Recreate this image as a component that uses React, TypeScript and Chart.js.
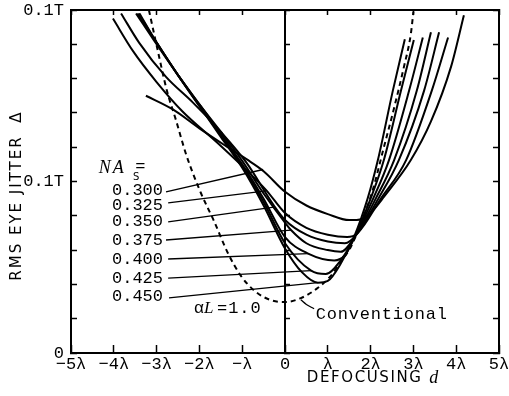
import React, { useEffect, useRef } from 'react';
import { Chart, registerables } from 'chart.js';

Chart.register(...registerables);

// ---------- axis ticks ----------
const xTickValues = [-5, -4, -3, -2, -1, 0, 1, 2, 3, 4, 5];
const xTickLabels = ['−5λ', '−4λ', '−3λ', '−2λ', '−λ', '0', 'λ', '2λ', '3λ', '4λ', '5λ'];
const yTickValues = [0, 0.02, 0.04, 0.06, 0.08, 0.1, 0.12, 0.14, 0.16, 0.18, 0.2];
const yTickLabels = ['0', '', '', '', '', '0.1T', '', '', '', '', '0.1T'];

// ---------- series (defocusing d in λ, rms eye jitter in T) ----------
const naLabels = ['0.300', '0.325', '0.350', '0.375', '0.400', '0.425', '0.450'];

const na300D = [-3.25, -2.62, -2.0, -1.4, -0.9, -0.5, 0, 0.5, 1.0, 1.5, 1.8, 2.05, 2.31, 2.94, 3.41, 3.88, 4.18];
const na300V = [0.150, 0.142, 0.131, 0.121, 0.113, 0.106, 0.094, 0.086, 0.081, 0.0775, 0.078, 0.083, 0.091, 0.1125, 0.135, 0.167, 0.197];

const na325D = [-4.02, -3.55, -3.0, -2.4, -1.6, -1.0, -0.44, 0, 0.5, 1.0, 1.45, 1.7, 2.24, 2.83, 3.43, 3.81];
const na325V = [0.195, 0.176, 0.158, 0.141, 0.123, 0.109, 0.095, 0.0816, 0.073, 0.069, 0.0676, 0.070, 0.09, 0.1125, 0.153, 0.184];

const na350D = [-3.83, -3.41, -2.78, -2.15, -1.5, -0.9, -0.26, 0, 0.5, 1.0, 1.4, 1.67, 2.18, 2.66, 3.25, 3.60];
const na350V = [0.198, 0.181, 0.161, 0.146, 0.129, 0.111, 0.086, 0.0776, 0.069, 0.065, 0.064, 0.069, 0.09, 0.1125, 0.153, 0.187];

const na375D = [-3.48, -3.0, -2.5, -2.0, -1.5, -1.0, -0.5, 0, 0.14, 0.5, 1.0, 1.3, 1.66, 2.12, 2.55, 3.08, 3.41];
const na375V = [0.198, 0.180, 0.162, 0.145, 0.129, 0.112, 0.093, 0.076, 0.0717, 0.064, 0.060, 0.059, 0.069, 0.09, 0.1125, 0.153, 0.187];

const na400D = [-3.45, -3.0, -2.5, -2.0, -1.5, -1.0, -0.5, 0, 0.54, 1.15, 1.4, 1.64, 2.06, 2.43, 2.90, 3.22];
const na400V = [0.198, 0.181, 0.162, 0.145, 0.128, 0.110, 0.090, 0.0676, 0.058, 0.054, 0.057, 0.068, 0.09, 0.1125, 0.153, 0.184];

const na425D = [-3.42, -3.0, -2.5, -2.0, -1.5, -1.0, -0.5, 0, 0.61, 0.95, 1.3, 1.63, 2.0, 2.31, 2.71, 3.01];
const na425V = [0.198, 0.181, 0.162, 0.144, 0.127, 0.109, 0.088, 0.064, 0.048, 0.046, 0.054, 0.068, 0.09, 0.1125, 0.153, 0.1825];

const na450D = [-3.40, -3.0, -2.5, -2.0, -1.5, -1.0, -0.5, 0, 0.4, 0.77, 1.0, 1.3, 1.62, 1.93, 2.17, 2.52, 2.80];
const na450V = [0.198, 0.181, 0.162, 0.144, 0.126, 0.108, 0.086, 0.061, 0.047, 0.041, 0.042, 0.052, 0.068, 0.09, 0.1125, 0.153, 0.183];

const convD = [-3.18, -2.97, -2.76, -2.55, -2.3, -1.96, -1.66, -1.33, -1.03, -0.7, -0.35, 0, 0.37, 0.77, 1.07, 1.3, 1.54, 1.78, 2.05, 2.29, 2.55, 2.78, 2.94, 3.0];
const convV = [0.2, 0.176, 0.153, 0.136, 0.115, 0.093, 0.077, 0.058, 0.045, 0.036, 0.031, 0.0297, 0.032, 0.038, 0.045, 0.053, 0.062, 0.076, 0.095, 0.118, 0.143, 0.167, 0.186, 0.199];

// leader lines from NA labels to curves
const leaderStartD = [-2.78, -2.73, -2.73, -2.78, -2.73, -2.73, -2.71];
const leaderStartV = [0.0939, 0.0875, 0.0764, 0.0659, 0.0548, 0.0437, 0.0321];
const leaderEndD = [-0.51, -0.44, -0.26, 0.14, 0.54, 0.61, 0.77];
const leaderEndV = [0.107, 0.0945, 0.085, 0.0717, 0.058, 0.048, 0.041];

// leader from "Conventional" to dashed curve
const convLeaderD = [0.37, 0.5, 0.68];
const convLeaderV = [0.031, 0.0283, 0.0258];

const curvesD = [na300D, na325D, na350D, na375D, na400D, na425D, na450D];
const curvesV = [na300V, na325V, na350V, na375V, na400V, na425V, na450V];

const MONO = '"Liberation Mono", "DejaVu Sans Mono", monospace';
const SANS = '"DejaVu Sans", "Liberation Sans", sans-serif';
const SERIF = '"Liberation Serif", "DejaVu Serif", serif';

const toPts = (d: number[], v: number[]) => d.map((x, i) => ({ x, y: v[i] }));

const annotations = {
  id: 'annotations',
  afterDatasetsDraw(chart: any) {
    const { ctx } = chart;
    const xs = chart.scales.x;
    const ys = chart.scales.y;
    const px = (d: number) => xs.getPixelForValue(d);
    const py = (v: number) => ys.getPixelForValue(v);
    const ls = (s: string) => { (ctx as any).letterSpacing = s; };
    ctx.save();
    ctx.fillStyle = '#000';
    ctx.textBaseline = 'middle';

    // NA labels
    const labelV = [0.0945, 0.086, 0.0764, 0.0656, 0.0545, 0.0434, 0.0329];
    ctx.font = `17px ${MONO}`;
    ctx.textAlign = 'right';
    naLabels.forEach((t, i) => ctx.fillText(t, px(-2.85), py(labelV[i])));

    // NA_S =
    ctx.textAlign = 'left';
    ls('2px');
    ctx.font = `italic 18px ${SERIF}`;
    ctx.fillText('NA', px(-4.35), py(0.1075));
    ls('0px');
    ctx.font = `10px ${SANS}`;
    ctx.fillText('S', px(-3.55), py(0.1025));
    ctx.font = `17px ${MONO}`;
    ctx.fillText('=', px(-3.50), py(0.1088));

    // alpha L = 1.0
    ctx.font = `17px ${MONO}`;
    ctx.fillText('α', px(-2.13), py(0.0257));
    ctx.font = `italic 17px ${SERIF}`;
    ctx.fillText('L', px(-1.89), py(0.0257));
    ctx.font = `17px ${MONO}`;
    ls('1px');
    ctx.fillText('=1.0', px(-1.59), py(0.0257));

    // Conventional
    ls('0.8px');
    ctx.fillText('Conventional', px(0.72), py(0.0227));

    // x title
    const area = chart.chartArea;
    ls('1.6px');
    ctx.font = `15px ${SANS}`;
    ctx.fillText('DEFOCUSING', px(0.51), area.bottom + 25);
    ls('0px');
    ctx.font = `italic 18px ${SERIF}`;
    ctx.fillText('d', px(3.37), area.bottom + 25);

    // y title (rotated)
    ctx.translate(17, 0);
    ctx.rotate(-Math.PI / 2);
    ctx.textAlign = 'center';
    ls('2px');
    ctx.font = `15px ${SANS}`;
    ctx.fillText('RMS EYE JITTER', -208, 0);
    ls('0px');
    ctx.fillText('Δ', -117.5, 0);
    ctx.restore();
  },
};

export default function App() {
  const ref = useRef<HTMLCanvasElement>(null);
  useEffect(() => {
    if (!ref.current) return;
    const setX = (s: any) => { s.ticks = xTickValues.map((v) => ({ value: v })); };
    const setY = (s: any) => { s.ticks = yTickValues.map((v) => ({ value: v })); };
    const noPad = (s: any) => { s.paddingLeft = 0; s.paddingRight = 0; s.paddingTop = 0; s.paddingBottom = 0; };

    const datasets: any[] = [];
    curvesD.forEach((d, i) => {
      datasets.push({
        label: 'NA ' + naLabels[i],
        data: toPts(d, curvesV[i]),
        borderColor: '#000',
        borderWidth: 2,
        pointRadius: 0,
        cubicInterpolationMode: 'monotone',
        fill: false,
        xAxisID: 'x',
        yAxisID: 'y',
      });
    });
    datasets.push({
      label: 'Conventional',
      data: toPts(convD, convV),
      borderColor: '#000',
      borderWidth: 2,
      borderDash: [5, 4],
      pointRadius: 0,
      cubicInterpolationMode: 'monotone',
      fill: false,
      xAxisID: 'x',
      yAxisID: 'y',
    });
    leaderStartD.forEach((d, i) => {
      datasets.push({
        label: 'leader ' + naLabels[i],
        data: [{ x: d, y: leaderStartV[i] }, { x: leaderEndD[i], y: leaderEndV[i] }],
        borderColor: '#000',
        borderWidth: 1.3,
        pointRadius: 0,
        tension: 0,
        fill: false,
        xAxisID: 'x',
        yAxisID: 'y',
      });
    });
    datasets.push({
      label: 'conv leader',
      data: toPts(convLeaderD, convLeaderV),
      borderColor: '#000',
      borderWidth: 1.3,
      pointRadius: 0,
      tension: 0.4,
      fill: false,
      xAxisID: 'x',
      yAxisID: 'y',
    });

    const tickFont = { family: MONO, size: 17 };
    const chart = new Chart(ref.current, {
      type: 'line',
      data: { datasets },
      plugins: [annotations],
      options: {
        animation: false,
        responsive: false,
        devicePixelRatio: 1,
        events: [],
        layout: { padding: { left: 0, top: 10, right: 10, bottom: 0 } },
        plugins: { legend: { display: false }, tooltip: { enabled: false }, title: { display: false } },
        scales: {
          x: {
            type: 'linear', position: 'bottom', min: -5, max: 5,
            afterBuildTicks: setX,
            afterFit: (s: any) => { s.height = 43; noPad(s); },
            ticks: {
              callback: (_v: any, i: number) => xTickLabels[i],
              font: tickFont, color: '#000', padding: 9, maxRotation: 0, autoSkip: false,
            },
            grid: { drawOnChartArea: false, tickLength: -8, tickWidth: 1.5, tickColor: '#000' },
            border: { color: '#000', width: 2 },
          },
          x2: {
            type: 'linear', position: 'top', min: -5, max: 5,
            afterBuildTicks: setX,
            afterFit: (s: any) => { s.height = 0; noPad(s); },
            ticks: { display: false },
            grid: { drawOnChartArea: false, tickLength: -5, tickWidth: 1.5, tickColor: '#000' },
            border: { color: '#000', width: 2 },
          },
          y: {
            type: 'linear', position: 'left', min: 0, max: 0.2,
            afterBuildTicks: setY,
            afterFit: (s: any) => { s.width = 71; noPad(s); },
            ticks: {
              callback: (_v: any, i: number) => yTickLabels[i],
              font: tickFont, color: '#000', padding: 13, autoSkip: false,
            },
            grid: { drawOnChartArea: false, tickLength: -6, tickWidth: 1.5, tickColor: '#000' },
            border: { color: '#000', width: 2 },
          },
          y2: {
            type: 'linear', position: 'right', min: 0, max: 0.2,
            afterBuildTicks: setY,
            afterFit: (s: any) => { s.width = 0; noPad(s); },
            ticks: { display: false },
            grid: { drawOnChartArea: false, tickLength: -6, tickWidth: 1.5, tickColor: '#000' },
            border: { color: '#000', width: 2 },
          },
          y3: {
            type: 'linear', position: { x: 0 }, min: 0, max: 0.2,
            afterBuildTicks: setY,
            afterFit: (s: any) => { s.width = 0; noPad(s); },
            ticks: { display: false },
            grid: { drawOnChartArea: false, tickLength: -6, tickWidth: 1.5, tickColor: '#000' },
            border: { color: '#000', width: 2 },
          },
        },
      } as any,
    });
    return () => chart.destroy();
  }, []);

  return (
    <div style={{ position: 'fixed', left: 0, top: 0, width: 509, height: 396, background: '#fff' }}>
      <canvas ref={ref} width={509} height={396} style={{ display: 'block' }} />
    </div>
  );
}
